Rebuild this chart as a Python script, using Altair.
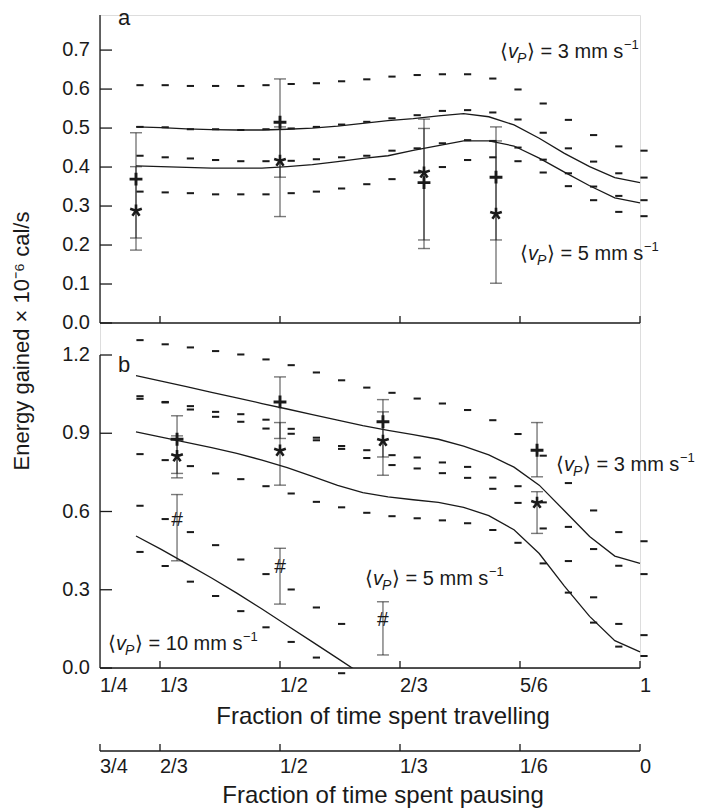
import altair as alt
import pandas as pd

FONT = "Liberation Sans"
INK = "#1a1a1a"

# ---------------- data ----------------
# x positions of the simulated curves (fraction of time travelling)
t_cols = [0.300, 0.335, 0.370, 0.405, 0.440, 0.475, 0.510, 0.545, 0.580, 0.615, 0.650,
          0.685, 0.720, 0.755, 0.790, 0.825, 0.860, 0.895, 0.930, 0.965, 1.000]

# panel a: mean curves
a_line_3 = [0.503, 0.501, 0.498, 0.496, 0.495, 0.495, 0.497, 0.500, 0.505, 0.512, 0.519,
            0.524, 0.531, 0.537, 0.529, 0.508, 0.474, 0.435, 0.401, 0.373, 0.360]
a_line_5 = [0.403, 0.401, 0.399, 0.397, 0.397, 0.397, 0.401, 0.406, 0.414, 0.422, 0.429,
            0.443, 0.455, 0.467, 0.467, 0.454, 0.423, 0.387, 0.352, 0.321, 0.308]
# panel a: dashed bounds
a_hi_3 = [0.610, 0.610, 0.608, 0.608, 0.608, 0.610, 0.613, 0.615, 0.620, 0.625, 0.632,
          0.636, 0.638, 0.638, 0.627, 0.599, 0.563, 0.521, 0.482, 0.453, 0.442]
a_lo_3 = [0.429, 0.425, 0.422, 0.418, 0.415, 0.415, 0.416, 0.420, 0.425, 0.429, 0.442,
          0.448, 0.461, 0.469, 0.467, 0.450, 0.419, 0.384, 0.350, 0.326, 0.315]
a_hi_5 = [0.503, 0.502, 0.497, 0.497, 0.495, 0.497, 0.499, 0.503, 0.509, 0.516, 0.525,
          0.533, 0.544, 0.546, 0.540, 0.522, 0.488, 0.448, 0.414, 0.384, 0.373]
a_lo_5 = [0.337, 0.335, 0.333, 0.330, 0.330, 0.330, 0.333, 0.337, 0.345, 0.356, 0.369,
          0.386, 0.400, 0.418, 0.425, 0.415, 0.386, 0.351, 0.315, 0.285, 0.274]
# panel a: measured points
a_pt_t = [0.30, 0.50, 0.70, 0.80]
a_plus = [0.369, 0.515, 0.360, 0.374]
a_plus_lo = [0.218, 0.374, 0.191, 0.213]
a_plus_hi = [0.488, 0.626, 0.523, 0.503]
a_star = [0.288, 0.416, 0.386, 0.280]
a_star_lo = [0.187, 0.273, 0.213, 0.102]
a_star_hi = [0.401, 0.503, 0.499, 0.467]

# panel b: mean curves
b_line_3 = [1.121, 1.100, 1.079, 1.057, 1.036, 1.014, 0.993, 0.971, 0.950, 0.929, 0.911,
            0.895, 0.877, 0.851, 0.817, 0.770, 0.701, 0.603, 0.504, 0.429, 0.401]
b_line_5 = [0.905, 0.885, 0.865, 0.845, 0.823, 0.797, 0.768, 0.735, 0.700, 0.672, 0.656,
            0.645, 0.635, 0.616, 0.584, 0.530, 0.439, 0.314, 0.198, 0.105, 0.062]
b_line_10 = [0.506, 0.455, 0.400, 0.345, 0.287, 0.226, 0.163, 0.100, 0.037, -0.027]
# panel b: dashed bounds
b_hi_3 = [1.257, 1.241, 1.229, 1.215, 1.202, 1.183, 1.161, 1.133, 1.103, 1.075, 1.055,
          1.033, 1.014, 0.989, 0.950, 0.897, 0.814, 0.709, 0.604, 0.521, 0.486]
b_lo_3 = [1.042, 1.020, 1.004, 0.982, 0.973, 0.952, 0.917, 0.883, 0.851, 0.835, 0.816,
          0.807, 0.788, 0.771, 0.730, 0.697, 0.635, 0.541, 0.456, 0.392, 0.360]
b_hi_5 = [1.032, 1.018, 0.991, 0.963, 0.944, 0.918, 0.898, 0.873, 0.840, 0.805, 0.778,
          0.765, 0.747, 0.729, 0.687, 0.633, 0.535, 0.410, 0.271, 0.169, 0.126]
b_lo_5 = [0.820, 0.797, 0.774, 0.746, 0.724, 0.697, 0.669, 0.637, 0.616, 0.595, 0.582,
          0.574, 0.566, 0.555, 0.529, 0.480, 0.401, 0.289, 0.174, 0.082, 0.046]
b_hi_10 = [0.622, 0.571, 0.521, 0.471, 0.416, 0.360, 0.301, 0.232, 0.169]
b_lo_10 = [0.445, 0.391, 0.331, 0.276, 0.218, 0.156, 0.100, 0.040, -0.020]
# panel b: measured points
b_pt_t = [0.357, 0.500, 0.643, 0.857]
b_plus = [0.877, 1.020, 0.944, 0.835]
b_plus_lo = [0.746, 0.880, 0.809, 0.733]
b_plus_hi = [0.967, 1.116, 1.029, 0.941]
b_star = [0.812, 0.833, 0.871, 0.633]
b_star_lo = [0.729, 0.701, 0.739, 0.516]
b_star_hi = [0.890, 0.941, 0.982, 0.676]
b_hash_t = [0.357, 0.500, 0.643]
b_hash = [0.567, 0.388, 0.184]
b_hash_lo = [0.411, 0.245, 0.050]
b_hash_hi = [0.665, 0.459, 0.254]

# axes
x_tick_vals = [1 / 3, 1 / 2, 2 / 3, 5 / 6, 1.0]
x_label_vals = [1 / 4, 1 / 3, 1 / 2, 2 / 3, 5 / 6, 1.0]
x_labels_travel = ["1/4", "1/3", "1/2", "2/3", "5/6", "1"]
x_labels_pause = ["3/4", "2/3", "1/2", "1/3", "1/6", "0"]
ya_ticks = [0.0, 0.1, 0.2, 0.3, 0.4, 0.5, 0.6, 0.7]
yb_ticks = [0.0, 0.3, 0.6, 0.9, 1.2]
y_title = "Energy gained \u00d7 10\u207b\u2076 cal/s"
x_title_travel = "Fraction of time spent travelling"
x_title_pause = "Fraction of time spent pausing"

# ---------------- layout (pixels inside the plot area) ----------------
W, H = 540, 653
A_BOT = 308          # bottom of panel a
B_TOP, B_BOT = 340, 653
P_AX = B_BOT + 83    # "pausing" axis line
xs = alt.Scale(domain=[0.25, 1.0], nice=False, zero=False)
ysa = alt.Scale(domain=[0.0, 0.79], range=[A_BOT, 0], nice=False, zero=False)
ysb = alt.Scale(domain=[0.0, 1.2], range=[B_BOT, B_TOP], nice=False, zero=False)

DASH = "M-1,-0.28L1,-0.28L1,0.28L-1,0.28Z"
CAP = "M-1,0L1,0"
PLUS = "M-1,0L1,0M0,-1L0,1"
STAR = "M0,0L0,-1M0,0L0.951,-0.309M0,0L0.588,0.809M0,0L-0.588,0.809M0,0L-0.951,-0.309"


def long(t, named):
    rows = []
    for name, vals in named.items():
        for i, v in enumerate(vals):
            rows.append({"t": t[i], "v": v, "s": name})
    return pd.DataFrame(rows)


def X(f="t:Q"):
    return alt.X(f, scale=xs, axis=None)


def panel_layers(ys, lines, dashes, bars, plus, star, clip_names=()):
    layers = []
    ldf = long(t_cols, lines)
    normal = ldf[~ldf.s.isin(clip_names)]
    layers.append(alt.Chart(normal).mark_line(color=INK, strokeWidth=1.3).encode(
        x=X(), y=alt.Y("v:Q", scale=ys, axis=None), detail="s:N"))
    if clip_names:
        clipped = ldf[ldf.s.isin(clip_names)]
        layers.append(alt.Chart(clipped).mark_line(color=INK, strokeWidth=1.3, clip=True).encode(
            x=X(), y=alt.Y("v:Q", scale=ys, axis=None), detail="s:N"))
    layers.append(alt.Chart(long(t_cols, dashes)).mark_point(
        shape=DASH, filled=True, size=52, color=INK, opacity=1, strokeWidth=0, xOffset=4).encode(
        x=X(), y=alt.Y("v:Q", scale=ys, axis=None)))
    for (bt, lo, hi) in bars:
        bdf = pd.DataFrame({"t": bt, "lo": lo, "hi": hi})
        layers.append(alt.Chart(bdf).mark_rule(color="#222", strokeWidth=1.4, opacity=0.6).encode(
            x=X(), y=alt.Y("lo:Q", scale=ys, axis=None), y2="hi:Q"))
        cdf = pd.DataFrame({"t": list(bt) + list(bt), "v": list(lo) + list(hi)})
        layers.append(alt.Chart(cdf).mark_point(
            shape=CAP, filled=False, size=144, strokeWidth=1.4, color="#222", opacity=0.6).encode(
            x=X(), y=alt.Y("v:Q", scale=ys, axis=None)))
    pt, pv = plus
    layers.append(alt.Chart(pd.DataFrame({"t": pt, "v": pv})).mark_point(
        shape=PLUS, filled=False, size=165, strokeWidth=2.9, color=INK, opacity=1).encode(
        x=X(), y=alt.Y("v:Q", scale=ys, axis=None)))
    st, sv = star
    layers.append(alt.Chart(pd.DataFrame({"t": st, "v": sv})).mark_point(
        shape=STAR, filled=False, size=150, strokeWidth=2.6, color=INK, opacity=1).encode(
        x=X(), y=alt.Y("v:Q", scale=ys, axis=None)))
    return layers


def text_at(txt, x, y, size, **kw):
    return alt.Chart(pd.DataFrame({"s": [txt]})).mark_text(
        font=FONT, fontSize=size, color=INK, **kw).encode(text="s:N", x=alt.value(x), y=alt.value(y))


def vp_label(x0, y0, num):
    rest = "\u27e9 = " + num + " mm s"
    w_rest = 97 if len(num) == 1 else 108
    pieces = [("\u27e8", 0, 0, 20, "normal"), ("v", 8, 0, 20, "italic"),
              ("P", 17, 5, 14, "italic"), (rest, 27, 0, 20, "normal"),
              ("\u22121", 27 + w_rest, -9, 13, "normal")]
    return [text_at(txt, x0 + dx, y0 + dy, size, align="left", baseline="alphabetic",
                    fontStyle=style) for txt, dx, dy, size, style in pieces]


def rule_px(**enc):
    return alt.Chart(pd.DataFrame({"k": [0]})).mark_rule(color=INK, strokeWidth=1.3).encode(**enc)


def x_axis_manual(y_line, tick_vals, label_vals, labels, title, label_dy, title_dy):
    out = [rule_px(x=alt.value(0), x2=alt.value(W), y=alt.value(y_line))]
    out.append(alt.Chart(pd.DataFrame({"t": tick_vals})).mark_rule(color=INK, strokeWidth=1.3).encode(
        x=X(), y=alt.value(y_line), y2=alt.value(y_line - 7)))
    if labels:
        out.append(alt.Chart(pd.DataFrame({"t": label_vals, "lab": labels})).mark_text(
            font=FONT, fontSize=20, color=INK, align="left", baseline="top").encode(
            x=X(), y=alt.value(y_line + label_dy), text="lab:N"))
    if title:
        out.append(text_at(title, 283, y_line + title_dy, 24, align="center", baseline="alphabetic"))
    return out


layers = []

# ---- axis frames ----
layers.append(rule_px(x=alt.value(0), y=alt.value(0), y2=alt.value(A_BOT)))          # panel a y line
layers.append(rule_px(x=alt.value(0), y=alt.value(B_TOP), y2=alt.value(B_BOT)))       # panel b y line

# y ticks (pointing inwards) and labels
for ys, vals in ((ysa, ya_ticks), (ysb, yb_ticks)):
    tdf = pd.DataFrame({"v": vals})
    layers.append(alt.Chart(tdf).mark_rule(color=INK, strokeWidth=1.3).encode(
        y=alt.Y("v:Q", scale=ys, axis=None), x=alt.value(0), x2=alt.value(12)))
    layers.append(alt.Chart(tdf).mark_text(font=FONT, fontSize=20, color=INK, align="right",
                                           baseline="middle", dx=-10).encode(
        y=alt.Y("v:Q", scale=ys, axis=None), x=alt.value(0), text=alt.Text("v:Q", format=".1f")))

# x axes
layers += x_axis_manual(A_BOT, x_tick_vals, None, None, None, 0, 0)
layers += x_axis_manual(B_BOT, x_tick_vals, x_label_vals, x_labels_travel, x_title_travel, 8, 56)
layers += x_axis_manual(P_AX, x_label_vals, x_label_vals, x_labels_pause, x_title_pause, 6, 52)

# ---- panel a ----
layers += panel_layers(
    ysa, {"3": a_line_3, "5": a_line_5},
    {"hi3": a_hi_3, "lo3": a_lo_3, "hi5": a_hi_5, "lo5": a_lo_5},
    [(a_pt_t, a_plus_lo, a_plus_hi), (a_pt_t, a_star_lo, a_star_hi)],
    (a_pt_t, a_plus), (a_pt_t, a_star))
layers += vp_label(400, 43, "3")
layers += vp_label(420, 245, "5")
layers.append(text_at("a", 18, 10, 22, align="left", baseline="alphabetic"))
layers.append(text_at(y_title, -78, 326, 22, align="center", baseline="middle", angle=270))

# ---- panel b ----
layers += panel_layers(
    ysb, {"3": b_line_3, "5": b_line_5, "10": b_line_10},
    {"hi3": b_hi_3, "lo3": b_lo_3, "hi5": b_hi_5, "lo5": b_lo_5, "hi10": b_hi_10, "lo10": b_lo_10},
    [(b_pt_t, b_plus_lo, b_plus_hi), (b_pt_t, b_star_lo, b_star_hi), (b_hash_t, b_hash_lo, b_hash_hi)],
    (b_pt_t, b_plus), (b_pt_t, b_star), clip_names=("10",))
layers.append(alt.Chart(pd.DataFrame({"t": b_hash_t, "v": b_hash})).mark_text(
    text="#", font=FONT, fontSize=21, color=INK, align="center", baseline="middle").encode(
    x=X(), y=alt.Y("v:Q", scale=ysb, axis=None)))
layers += vp_label(456, B_TOP + 116, "3")
layers += vp_label(265, B_TOP + 230, "5")
layers += vp_label(8, B_TOP + 295, "10")
layers.append(text_at("b", 18, B_TOP + 17, 22, align="left", baseline="alphabetic"))

chart = alt.layer(*layers).resolve_scale(y="independent").properties(
    width=W, height=H,
    autosize=alt.AutoSizeParams(type="none"),
    padding={"left": 100, "top": 15, "right": 76, "bottom": 141},
).configure_view(stroke=None).configure(background="white")

chart.save("out.html", embed_options={"renderer": "svg", "actions": False})
